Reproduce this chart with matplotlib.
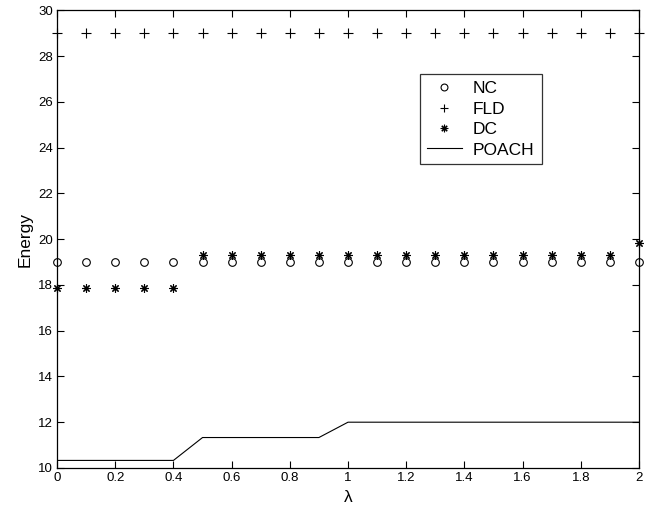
import matplotlib
matplotlib.use("Agg")
import matplotlib.pyplot as plt
from matplotlib.ticker import FuncFormatter

plt.rcParams["font.family"] = ["Liberation Sans", "DejaVu Sans"]

# lambda values (0 .. 2 step 0.1)
lam = [0.0, 0.1, 0.2, 0.3, 0.4, 0.5, 0.6, 0.7, 0.8, 0.9, 1.0,
       1.1, 1.2, 1.3, 1.4, 1.5, 1.6, 1.7, 1.8, 1.9, 2.0]

nc = [19, 19, 19, 19, 19, 19, 19, 19, 19, 19, 19,
      19, 19, 19, 19, 19, 19, 19, 19, 19, 19]
fld = [29, 29, 29, 29, 29, 29, 29, 29, 29, 29, 29,
       29, 29, 29, 29, 29, 29, 29, 29, 29, 29]
dc = [17.85, 17.85, 17.85, 17.85, 17.85, 19.3, 19.3, 19.3, 19.3, 19.3, 19.3,
      19.3, 19.3, 19.3, 19.3, 19.3, 19.3, 19.3, 19.3, 19.3, 19.85]
poach = [10.33, 10.33, 10.33, 10.33, 10.33, 11.33, 11.33, 11.33, 11.33, 11.33, 12.0,
         12.0, 12.0, 12.0, 12.0, 12.0, 12.0, 12.0, 12.0, 12.0, 12.0]

x_ticks = [0, 0.2, 0.4, 0.6, 0.8, 1, 1.2, 1.4, 1.6, 1.8, 2]
y_ticks = [10, 12, 14, 16, 18, 20, 22, 24, 26, 28, 30]

fig = plt.figure(figsize=(6.56, 5.12), dpi=100)
ax = fig.add_axes([0.087, 0.086, 0.887, 0.894])

ax.plot(lam, nc, linestyle="none", marker="o", markersize=5.5,
        markerfacecolor="none", markeredgecolor="black", markeredgewidth=0.8,
        label="NC", clip_on=False)
ax.plot(lam, fld, linestyle="none", marker="+", markersize=6.5,
        color="black", markeredgewidth=0.8, label="FLD", clip_on=False)
ax.plot(lam, dc, linestyle="none", marker=(8, 2, 0), markersize=6,
        color="black", markeredgewidth=0.8, label="DC", clip_on=False)
ax.plot(lam, poach, color="black", linewidth=0.8, label="POACH")

ax.set_xlim(0, 2)
ax.set_ylim(10, 30)
ax.set_xticks(x_ticks)
ax.set_yticks(y_ticks)
ax.xaxis.set_major_formatter(FuncFormatter(lambda v, p: "%g" % v))
ax.tick_params(direction="in", top=True, right=True, labelsize=9.5,
               length=5, width=0.8, pad=3)
for s in ax.spines.values():
    s.set_linewidth(0.9)

ax.set_xlabel("λ", fontsize=12.5, labelpad=4)
ax.set_ylabel("Energy", fontsize=12.5, labelpad=4)

leg = ax.legend(loc="upper left", bbox_to_anchor=(0.624, 0.86), fontsize=12.5,
                frameon=True, fancybox=False, edgecolor="black",
                handlelength=2.0, handletextpad=0.65, borderpad=0.4,
                borderaxespad=0, labelspacing=0.3, markerscale=0.9)
leg.get_frame().set_linewidth(0.9)

fig.savefig("out.png", dpi=100)
